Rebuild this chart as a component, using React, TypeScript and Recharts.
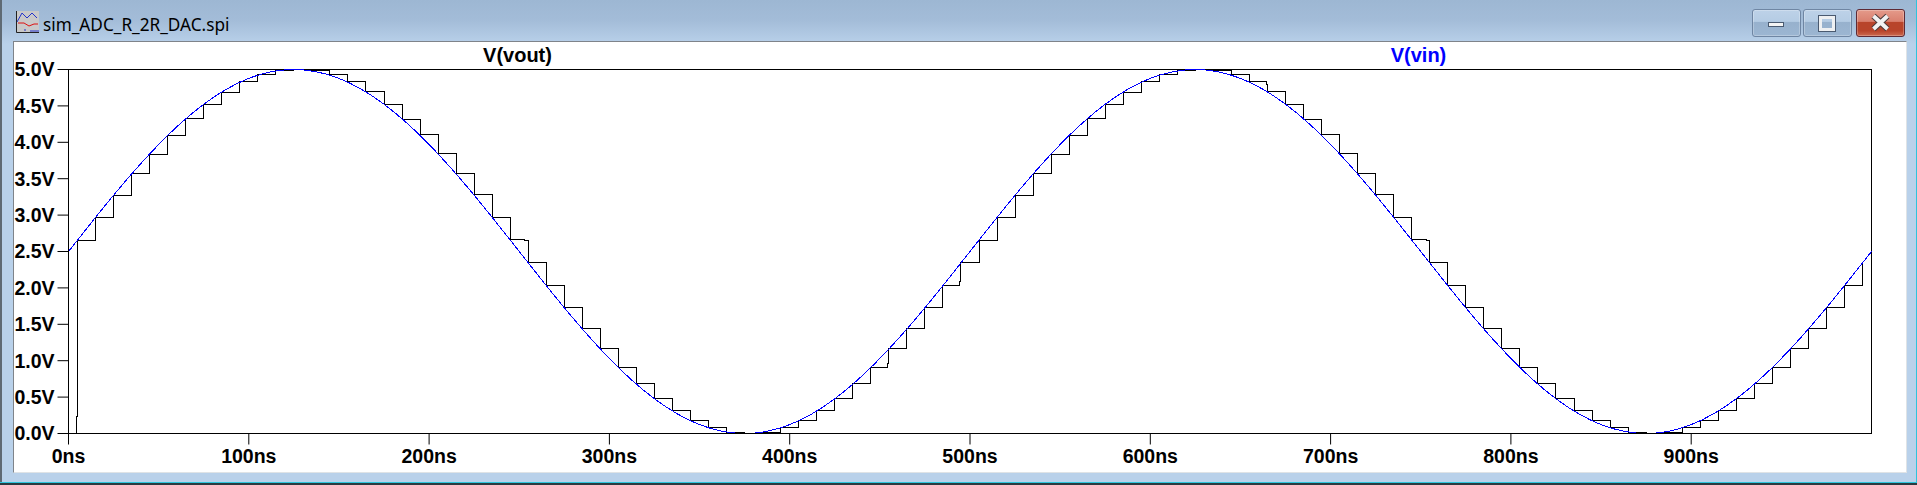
import { LineChart, Line, XAxis, YAxis, ReferenceArea } from "recharts";

// V(vout) staircase: step edge time in ns, level in volts.
// A few edges have a tiny kink just before the jump, those are the extra entries.
const voutTimes = [
  0, 4.5, 5, 15, 25, 35, 45, 55, 65, 75, 85, 95, 105, 115, 125, 135, 145, 155, 164.5, 165, 175, 185, 195,
  205, 215, 225, 235, 245, 253, 255, 265, 275, 285, 295, 305, 315, 325, 335, 345, 355, 365, 375, 385, 395,
  405, 415, 425, 435, 445, 454.5, 455, 465, 474.5, 475, 485, 494.4, 495, 505, 515, 525, 535, 545, 555, 565,
  575, 585, 595, 605, 615, 625, 635, 645, 655, 664.5, 665, 675, 685, 695, 705, 715, 725, 735, 745, 753, 755,
  765, 775, 785, 795, 804.5, 805, 815, 825, 835, 845, 855, 865, 875, 885, 895, 905, 915, 925, 935, 945, 955,
  965, 975, 985, 995,
];
const voutLevels = [
  0, 0.23, 2.654, 2.97, 3.27, 3.574, 3.835, 4.1, 4.33, 4.526, 4.687, 4.83, 4.925, 4.98, 5, 4.99, 4.925, 4.83,
  4.79, 4.7, 4.52, 4.32, 4.11, 3.85, 3.574, 3.285, 2.97, 2.667, 2.654, 2.35, 2.035, 1.733, 1.445, 1.17, 0.909,
  0.69, 0.483, 0.319, 0.181, 0.085, 0.016, 0, 0.02, 0.085, 0.181, 0.319, 0.483, 0.69, 0.909, 0.964, 1.17,
  1.445, 1.573, 1.733, 2.035, 2.085, 2.35, 2.654, 2.97, 3.27, 3.574, 3.835, 4.1, 4.33, 4.526, 4.687, 4.83,
  4.925, 4.98, 5, 4.99, 4.925, 4.83, 4.79, 4.7, 4.52, 4.32, 4.11, 3.85, 3.574, 3.285, 2.97, 2.667, 2.654, 2.35,
  2.035, 1.733, 1.445, 1.17, 1.1, 0.909, 0.69, 0.483, 0.319, 0.181, 0.085, 0.016, 0, 0.02, 0.085, 0.181, 0.319,
  0.483, 0.69, 0.909, 1.17, 1.445, 1.733, 2.035, 2.35,
];

// V(vin), read every 12.5ns
const vinTimes = [
  0, 12.5, 25, 37.5, 50, 62.5, 75, 87.5, 100, 112.5, 125, 137.5, 150, 162.5, 175, 187.5, 200, 212.5, 225, 237.5,
  250, 262.5, 275, 287.5, 300, 312.5, 325, 337.5, 350, 362.5, 375, 387.5, 400, 412.5, 425, 437.5, 450, 462.5, 475, 487.5,
  500, 512.5, 525, 537.5, 550, 562.5, 575, 587.5, 600, 612.5, 625, 637.5, 650, 662.5, 675, 687.5, 700, 712.5, 725, 737.5,
  750, 762.5, 775, 787.5, 800, 812.5, 825, 837.5, 850, 862.5, 875, 887.5, 900, 912.5, 925, 937.5, 950, 962.5, 975, 987.5, 1000,
];
const vinLevels = [
  2.5, 2.891, 3.273, 3.635, 3.969, 4.268, 4.523, 4.728, 4.878, 4.969, 5, 4.969, 4.878, 4.728, 4.523, 4.268, 3.969, 3.635, 3.273, 2.891,
  2.5, 2.109, 1.727, 1.365, 1.031, 0.732, 0.477, 0.272, 0.122, 0.031, 0, 0.031, 0.122, 0.272, 0.477, 0.732, 1.031, 1.365, 1.727, 2.109,
  2.5, 2.891, 3.273, 3.635, 3.969, 4.268, 4.523, 4.728, 4.878, 4.969, 5, 4.969, 4.878, 4.728, 4.523, 4.268, 3.969, 3.635, 3.273, 2.891,
  2.5, 2.109, 1.727, 1.365, 1.031, 0.732, 0.477, 0.272, 0.122, 0.031, 0, 0.031, 0.122, 0.272, 0.477, 0.732, 1.031, 1.365, 1.727, 2.109, 2.5,
];

const xTicks = [0, 100, 200, 300, 400, 500, 600, 700, 800, 900];
const yTicks = [0, 0.5, 1, 1.5, 2, 2.5, 3, 3.5, 4, 4.5, 5];

const voutData = voutTimes.map((t, i) => ({ t, v: voutLevels[i] }));
const vinData = vinTimes.map((t, i) => ({ t, v: vinLevels[i] }));

const axisFont = {
  fontFamily: "'Liberation Sans', Arial, sans-serif",
  fontWeight: 700,
  fontSize: 19.5,
  fill: "#000",
};

function AppIcon() {
  return (
    <svg width={24} height={24} style={{ position: "absolute", left: 15, top: 10 }}>
      <rect x={2} y={1} width={22} height={21} fill="#c9c9c9" />
      <path d="M2 12 L7 3 L12 8 L17 3 L22 8" fill="none" stroke="#2233cc" />
      <path d="M3 13 L9 13 L14 16 L19 14 L23 14" fill="none" stroke="#dd1111" />
      <path d="M1.5 1 V22.5 H24" fill="none" stroke="#222" />
      <path d="M9 20 H11 M15 21 H24" stroke="#2233cc" />
    </svg>
  );
}

function WindowButton({ left, width, close, children }: any) {
  return (
    <div
      style={{
        position: "absolute",
        left,
        top: 9,
        width,
        height: 28,
        boxSizing: "border-box",
        borderRadius: 3,
        border: close ? "1px solid #5e2a35" : "1px solid #6f86a3",
        boxShadow: "inset 0 0 0 1px rgba(255,255,255,0.25)",
        background: close
          ? "linear-gradient(#e49a8a 0%, #d9806f 44%, #b8442b 46%, #b8442b 80%, #cc6a50 100%)"
          : "linear-gradient(#bdd2e8 0%, #b5cce4 44%, #97b1cd 46%, #9cb6d2 100%)",
      }}
    >
      {children}
    </div>
  );
}

export default function App() {
  return (
    <div
      style={{
        position: "fixed",
        left: 0,
        top: 0,
        width: 1917,
        height: 485,
        overflow: "hidden",
        background: "linear-gradient(#9db7d3 0px, #a3bcd8 20px, #b9d1ea 44px)",
      }}
    >
      {/* window frame */}
      <div style={{ position: "absolute", left: 0, top: 0, width: 2, height: 485, background: "#5f6a74" }} />
      <div style={{ position: "absolute", left: 1916, top: 0, width: 1, height: 485, background: "#2ec4dc" }} />
      <div style={{ position: "absolute", left: 0, top: 482, width: 1917, height: 1, background: "#2ec4dc" }} />
      <div style={{ position: "absolute", left: 0, top: 483, width: 1917, height: 2, background: "#2b3a40" }} />

      <AppIcon />
      <div
        style={{
          position: "absolute",
          left: 43,
          top: 14,
          fontFamily: "'Noto Sans', sans-serif",
          fontSize: 17.2,
          lineHeight: "22px",
          color: "#000",
          whiteSpace: "nowrap",
        }}
      >
        sim_ADC_R_2R_DAC.spi
      </div>

      <WindowButton left={1752} width={49}>
        <div
          style={{
            position: "absolute",
            left: 15,
            top: 12,
            width: 16,
            height: 5,
            boxSizing: "border-box",
            background: "#f4f4f4",
            border: "1px solid #4a5a70",
          }}
        />
      </WindowButton>
      <WindowButton left={1803} width={49}>
        <div
          style={{
            position: "absolute",
            left: 15,
            top: 6,
            width: 16,
            height: 15,
            boxSizing: "border-box",
            border: "3px solid #eef0f2",
            outline: "1px solid #4a5a70",
          }}
        />
      </WindowButton>
      <WindowButton left={1856} width={49} close>
        <svg width={47} height={26} style={{ position: "absolute", left: 0, top: 0 }}>
          <path d="M16.5 6 L30.5 19 M30.5 6 L16.5 19" stroke="#4a3a3a" strokeWidth={6} />
          <path d="M16.5 6 L30.5 19 M30.5 6 L16.5 19" stroke="#f2f2f2" strokeWidth={4} />
        </svg>
      </WindowButton>

      {/* client area */}
      <div
        style={{
          position: "absolute",
          left: 13,
          top: 41,
          width: 1894,
          height: 432,
          boxSizing: "border-box",
          background: "#fff",
          borderTop: "1px solid #7f848a",
          borderLeft: "1px solid #7f848a",
          borderRight: "1px solid #dfe3e6",
          borderBottom: "1px solid #dfe3e6",
        }}
      />

      <div style={{ position: "absolute", left: 0, top: 0 }}>
        <LineChart
          width={1917}
          height={485}
          margin={{ top: 69.5, right: 45.5, left: 0, bottom: 0 }}
        >
          <XAxis
            type="number"
            dataKey="t"
            domain={[0, 1000]}
            ticks={xTicks}
            interval={0}
            height={51.5}
            allowDuplicatedCategory={false}
            tickSize={11}
            tickMargin={5}
            tickFormatter={(t: number) => `${t}ns`}
            tick={axisFont}
            stroke="#000"
          />
          <YAxis
            type="number"
            domain={[0, 5]}
            ticks={yTicks}
            interval={0}
            width={68.5}
            tickSize={11}
            tickMargin={3}
            tickFormatter={(v: number) => `${v.toFixed(1)}V`}
            tick={axisFont}
            stroke="#000"
          />
          <ReferenceArea x1={0} x2={1000} y1={0} y2={5} fill="none" stroke="#000" strokeWidth={1} shapeRendering="crispEdges" />
          <Line
            data={voutData}
            dataKey="v"
            name="V(vout)"
            type="stepAfter"
            stroke="#000"
            strokeWidth={1}
            dot={false}
            shapeRendering="crispEdges"
            isAnimationActive={false}
          />
          <Line
            data={vinData}
            dataKey="v"
            name="V(vin)"
            type="monotone"
            stroke="#0000ff"
            strokeWidth={1}
            dot={false}
            shapeRendering="crispEdges"
            isAnimationActive={false}
          />
        </LineChart>
      </div>

      {/* trace names above the plot */}
      <div style={{ ...traceName, left: 417.5, color: "#000" }}>V(vout)</div>
      <div style={{ ...traceName, left: 1318.5, color: "#0000ff" }}>V(vin)</div>
    </div>
  );
}

const traceName: any = {
  position: "absolute",
  top: 43,
  width: 200,
  textAlign: "center",
  fontFamily: "'Liberation Sans', Arial, sans-serif",
  fontWeight: 700,
  fontSize: 20,
  lineHeight: "24px",
};
